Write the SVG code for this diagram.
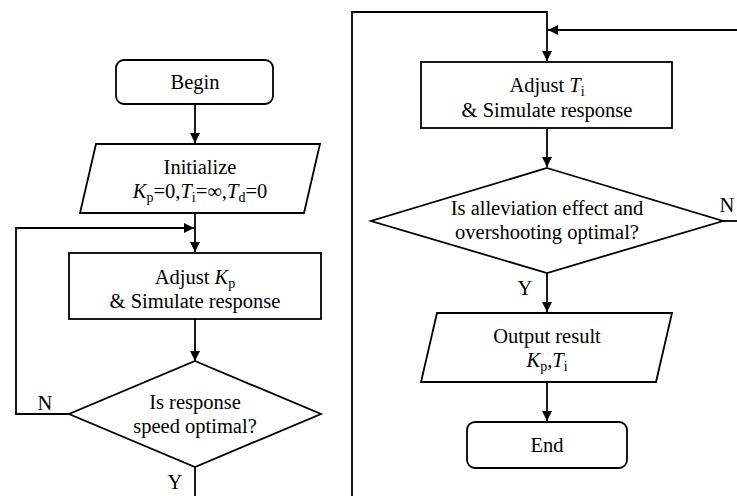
<svg xmlns="http://www.w3.org/2000/svg" width="737" height="496" viewBox="0 0 737 496">
<style>
.s{fill:#fff;stroke:#000;stroke-width:1.8}
.c{fill:none;stroke:#000;stroke-width:1.8}
.t{font-size:20.5px;fill:#000;text-anchor:middle}
.i{font-style:italic}
.sub{font-size:14px}
</style>
<defs>
<marker id="a" markerWidth="10" markerHeight="10" refX="10" refY="5" orient="auto" markerUnits="userSpaceOnUse">
<path d="M0,0 L10,5 L0,10 Z" fill="#000"/>
</marker>
</defs>
<rect width="737" height="496" fill="#fff"/>
<g id="connectors">
<path class="c" d="M195,104 V143" marker-end="url(#a)"/>
<path class="c" d="M195,213 V252" marker-end="url(#a)"/>
<path class="c" d="M69,414 H16 V228 H194" marker-end="url(#a)"/>
<path class="c" d="M195,319 V361" marker-end="url(#a)"/>
<path class="c" d="M195,467 V496"/>
<path class="c" d="M352,496 V12 H547 V61" marker-end="url(#a)"/>
<path class="c" d="M737,30 H548" marker-end="url(#a)"/>
<path class="c" d="M547,128 V167" marker-end="url(#a)"/>
<path class="c" d="M723,221 H737"/>
<path class="c" d="M547,273 V312" marker-end="url(#a)"/>
<path class="c" d="M547,382 V421" marker-end="url(#a)"/>
<g font-family="Liberation Serif, Tinos, Times New Roman, serif">
<text x="45" y="410" class="t">N</text>
<text x="175" y="489" class="t">Y</text>
<text x="727" y="212" class="t">N</text>
<text x="525" y="295" class="t">Y</text>
</g>
</g>
<g id="begin" font-family="Liberation Serif, Tinos, Times New Roman, serif">
<rect class="s" x="116" y="60" width="157" height="44" rx="8"/>
<text x="195" y="89" class="t">Begin</text>
</g>
<g id="initialize" font-family="Liberation Serif, Tinos, Times New Roman, serif">
<polygon class="s" points="96,144 320,144 304,213 80,213"/>
<text x="200" y="174" class="t">Initialize</text>
<text x="200" y="198" class="t"><tspan class="i">K</tspan><tspan class="sub" dy="4">p</tspan><tspan dy="-4">=0,</tspan><tspan class="i">T</tspan><tspan class="sub" dy="4">i</tspan><tspan dy="-4">=∞,</tspan><tspan class="i">T</tspan><tspan class="sub" dy="4">d</tspan><tspan dy="-4">=0</tspan></text>
</g>
<g id="adjust-kp" font-family="Liberation Serif, Tinos, Times New Roman, serif">
<rect class="s" x="69" y="253" width="252" height="66"/>
<text x="195" y="284" class="t">Adjust <tspan class="i">K</tspan><tspan class="sub" dy="4">p</tspan></text>
<text x="195" y="308" class="t">&amp; Simulate response</text>
</g>
<g id="speed-decision" font-family="Liberation Serif, Tinos, Times New Roman, serif">
<polygon class="s" points="195,361 321,414 195,467 69,414"/>
<text x="195" y="409" class="t">Is response</text>
<text x="195" y="433" class="t">speed optimal?</text>
</g>
<g id="adjust-ti" font-family="Liberation Serif, Tinos, Times New Roman, serif">
<rect class="s" x="421" y="62" width="251" height="66"/>
<text x="547" y="92" class="t">Adjust <tspan class="i">T</tspan><tspan class="sub" dy="4">i</tspan></text>
<text x="547" y="117" class="t">&amp; Simulate response</text>
</g>
<g id="overshoot-decision" font-family="Liberation Serif, Tinos, Times New Roman, serif">
<polygon class="s" points="547,168 723,221 547,273 371,221"/>
<text x="547" y="215" class="t">Is alleviation effect and</text>
<text x="547" y="239" class="t">overshooting optimal?</text>
</g>
<g id="output" font-family="Liberation Serif, Tinos, Times New Roman, serif">
<polygon class="s" points="437,313 672,313 656,382 421,382"/>
<text x="547" y="343" class="t">Output result</text>
<text x="547" y="367" class="t"><tspan class="i">K</tspan><tspan class="sub" dy="4">p</tspan><tspan dy="-4">,</tspan><tspan class="i">T</tspan><tspan class="sub" dy="4">i</tspan></text>
</g>
<g id="end" font-family="Liberation Serif, Tinos, Times New Roman, serif">
<rect class="s" x="467" y="422" width="160" height="46" rx="8"/>
<text x="547" y="452" class="t">End</text>
</g>
</svg>
